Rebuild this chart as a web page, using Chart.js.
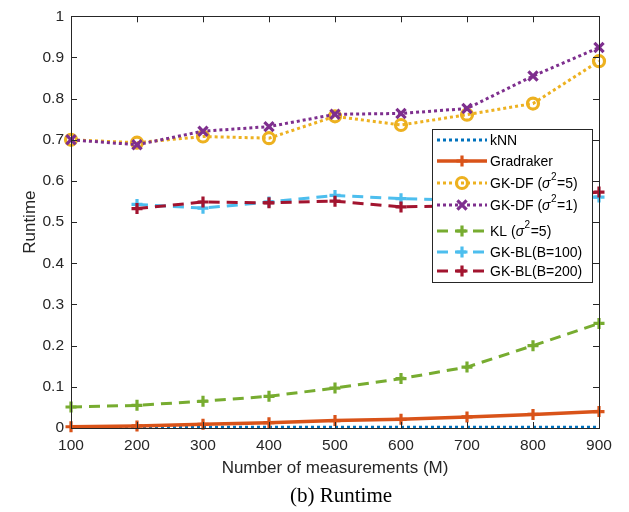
<!DOCTYPE html>
<html>
<head>
<meta charset="utf-8">
<script src="https://cdn.jsdelivr.net/npm/chart.js@4.4.1/dist/chart.umd.min.js"></script>
<style>
  html, body { margin: 0; padding: 0; background: #fff; }
  #wrap { width: 629px; height: 512px; position: relative; }
</style>
</head>
<body>
<div id="wrap"><canvas id="c" width="629" height="512"></canvas></div>
<script>
// ---- data ----
const measurements = [100, 200, 300, 400, 500, 600, 700, 800, 900];
const knn       = [0.001, 0.001, 0.002, 0.002, 0.002, 0.002, 0.002, 0.002, 0.002];
const gradraker = [0.003, 0.005, 0.009, 0.013, 0.018, 0.021, 0.027, 0.033, 0.040];
const gkdfS5    = [0.700, 0.693, 0.708, 0.704, 0.757, 0.736, 0.761, 0.788, 0.891];
const gkdfS1    = [0.700, 0.688, 0.721, 0.732, 0.762, 0.764, 0.776, 0.855, 0.924];
const klS5      = [0.051, 0.055, 0.065, 0.077, 0.097, 0.120, 0.148, 0.200, 0.254];
const gkbl100   = [null, 0.543, 0.534, 0.549, 0.565, 0.557, 0.553, 0.555, 0.561];
const gkbl200   = [null, 0.533, 0.549, 0.547, 0.551, 0.537, 0.540, 0.556, 0.573];
const seriesNames = ['kNN', 'Gradraker', 'GK-DF (σ^2=5)', 'GK-DF (σ^2=1)', 'KL (σ^2=5)', 'GK-BL(B=100)', 'GK-BL(B=200)'];
const xTicks = [100, 200, 300, 400, 500, 600, 700, 800, 900];
const yTicks = [0, 0.1, 0.2, 0.3, 0.4, 0.5, 0.6, 0.7, 0.8, 0.9, 1];
const xTitle = 'Number of measurements (M)';
const yTitle = 'Runtime';
const caption = '(b) Runtime';

// ---- styles ----
const TXT = '#262626';
const FONT = 'Liberation Sans, Arial, Helvetica, sans-serif';
const DOT = [3, 3];
const DASH = [11, 7];
const styles = [
  { color: '#0072BD', dash: DOT, width: 3, point: false, radius: 0 },
  { color: '#D95319', dash: [], width: 3.5, point: 'cross', radius: 5.5 },
  { color: '#EDB120', dash: DOT, width: 3, point: 'circle', radius: 5.5 },
  { color: '#7E2F8E', dash: DOT, width: 3, point: 'crossRot', radius: 6.5 },
  { color: '#77AC30', dash: DASH, width: 3, point: 'cross', radius: 5.5 },
  { color: '#4DBEEE', dash: DASH, width: 3, point: 'cross', radius: 5.5 },
  { color: '#A2142F', dash: DASH, width: 3, point: 'cross', radius: 5.5 }
];
const seriesValues = [knn, gradraker, gkdfS5, gkdfS1, klS5, gkbl100, gkbl200];

function toPoints(vals) {
  const pts = [];
  vals.forEach((v, i) => { if (v !== null) pts.push({ x: measurements[i], y: v }); });
  return pts;
}

const datasets = seriesValues.map((vals, i) => {
  const s = styles[i];
  return {
    label: seriesNames[i],
    data: toPoints(vals),
    borderColor: s.color,
    backgroundColor: s.color,
    borderWidth: s.width,
    borderDash: s.dash,
    borderCapStyle: 'butt',
    tension: 0,
    pointStyle: s.point || 'circle',
    pointRadius: s.radius,
    pointHoverRadius: s.radius,
    pointBorderWidth: 3.2,
    pointBorderColor: s.color,
    pointBackgroundColor: s.point === 'circle' ? 'rgba(0,0,0,0)' : s.color,
    clip: false,
    order: seriesValues.length - i
  };
});

// ---- legend + box plugin ----
const LEG = { left: 432, top: 129, right: 592, bottom: 282, lineX0: 437, lineX1: 487, textX: 490,
              rows: [140, 161, 183, 205, 231, 252, 271] };

function drawMarker(ctx, style, r, x, y, color) {
  ctx.save();
  ctx.setLineDash([]);
  ctx.strokeStyle = color;
  ctx.lineWidth = 3.2;
  ctx.beginPath();
  if (style === 'cross') {
    ctx.moveTo(x - r, y); ctx.lineTo(x + r, y);
    ctx.moveTo(x, y - r); ctx.lineTo(x, y + r);
  } else if (style === 'crossRot') {
    const d = r * Math.SQRT1_2;
    ctx.moveTo(x - d, y - d); ctx.lineTo(x + d, y + d);
    ctx.moveTo(x - d, y + d); ctx.lineTo(x + d, y - d);
  } else if (style === 'circle') {
    ctx.arc(x, y, r, 0, Math.PI * 2);
  }
  ctx.stroke();
  ctx.restore();
}

function drawLabel(ctx, text, x, y) {
  const base = 14;
  const parts = text.split(/(σ|\^2)/);
  let cx = x;
  parts.forEach(p => {
    if (!p) return;
    if (p === 'σ') {
      ctx.font = 'italic ' + base + 'px ' + FONT;
      ctx.fillText('σ', cx, y);
      cx += ctx.measureText('σ').width + 0.5;
    } else if (p === '^2') {
      ctx.font = '10px ' + FONT;
      ctx.fillText('2', cx, y - 7);
      cx += ctx.measureText('2').width + 0.5;
    } else {
      ctx.font = base + 'px ' + FONT;
      ctx.fillText(p, cx, y);
      cx += ctx.measureText(p).width;
    }
  });
}

const decorPlugin = {
  id: 'decor',
  afterDatasetsDraw(chart) {
    const ctx = chart.ctx;
    const a = chart.chartArea;
    const xs = chart.scales.x, ys = chart.scales.y;
    ctx.save();
    ctx.strokeStyle = TXT;
    ctx.lineWidth = 1;
    ctx.setLineDash([]);
    // box
    ctx.strokeRect(Math.round(a.left) + 0.5, Math.round(a.top) + 0.5,
                   Math.round(a.right - a.left), Math.round(a.bottom - a.top));
    // inward ticks
    const tl = 6;
    ctx.beginPath();
    xTicks.forEach(v => {
      const px = Math.round(xs.getPixelForValue(v)) + 0.5;
      ctx.moveTo(px, a.bottom); ctx.lineTo(px, a.bottom - tl);
      ctx.moveTo(px, a.top); ctx.lineTo(px, a.top + tl);
    });
    yTicks.forEach(v => {
      const py = Math.round(ys.getPixelForValue(v)) + 0.5;
      ctx.moveTo(a.left, py); ctx.lineTo(a.left + tl, py);
      ctx.moveTo(a.right, py); ctx.lineTo(a.right - tl, py);
    });
    ctx.stroke();

    // legend
    ctx.fillStyle = '#fff';
    ctx.fillRect(LEG.left, LEG.top, LEG.right - LEG.left, LEG.bottom - LEG.top);
    ctx.strokeStyle = '#262626';
    ctx.lineWidth = 1;
    ctx.strokeRect(LEG.left + 0.5, LEG.top + 0.5, LEG.right - LEG.left, LEG.bottom - LEG.top);
    chart.data.datasets.forEach((ds, i) => {
      const y = LEG.rows[i];
      const s = styles[i];
      ctx.save();
      ctx.strokeStyle = ds.borderColor;
      ctx.lineWidth = ds.borderWidth;
      ctx.setLineDash(ds.borderDash || []);
      ctx.lineCap = 'butt';
      ctx.beginPath();
      ctx.moveTo(LEG.lineX0, y); ctx.lineTo(LEG.lineX1, y);
      ctx.stroke();
      ctx.restore();
      if (s.point) drawMarker(ctx, s.point, s.radius, (LEG.lineX0 + LEG.lineX1) / 2, y, s.color);
      ctx.fillStyle = '#000';
      ctx.textBaseline = 'middle';
      ctx.textAlign = 'left';
      drawLabel(ctx, ds.label, LEG.textX, y + 1);
    });

    // caption
    ctx.fillStyle = '#000';
    ctx.font = '21px Liberation Serif, Times New Roman, serif';
    ctx.textAlign = 'center';
    ctx.textBaseline = 'middle';
    ctx.fillText(caption, 341, 496);
    ctx.restore();
  }
};

new Chart(document.getElementById('c'), {
  type: 'line',
  data: { datasets },
  options: {
    responsive: false,
    animation: false,
    devicePixelRatio: 1,
    layout: { padding: { left: 0, right: 30, top: 11, bottom: 0 } },
    plugins: { legend: { display: false }, tooltip: { enabled: false } },
    scales: {
      x: {
        type: 'linear', min: 100, max: 900,
        afterBuildTicks: s => { s.ticks = xTicks.map(v => ({ value: v })); },
        afterFit: s => { s.height = 84; },
        grid: { display: false, drawTicks: false },
        border: { display: false },
        ticks: { color: TXT, font: { family: FONT, size: 15.5 }, padding: 8, maxRotation: 0,
                 callback: v => String(v) },
        title: { display: true, text: xTitle, color: TXT, font: { family: FONT, size: 17 },
                 padding: { top: 0, bottom: 33 } }
      },
      y: {
        type: 'linear', min: 0, max: 1,
        afterBuildTicks: s => { s.ticks = yTicks.map(v => ({ value: v })); },
        afterFit: s => { s.width = 71; },
        grid: { display: false, drawTicks: false },
        border: { display: false },
        ticks: { color: TXT, font: { family: FONT, size: 15.5 }, padding: 7,
                 callback: v => String(Math.round(v * 10) / 10) },
        title: { display: true, text: yTitle, color: TXT, font: { family: FONT, size: 17 },
                 padding: { top: 20, bottom: 0 } }
      }
    }
  },
  plugins: [decorPlugin]
});
</script>
</body>
</html>
